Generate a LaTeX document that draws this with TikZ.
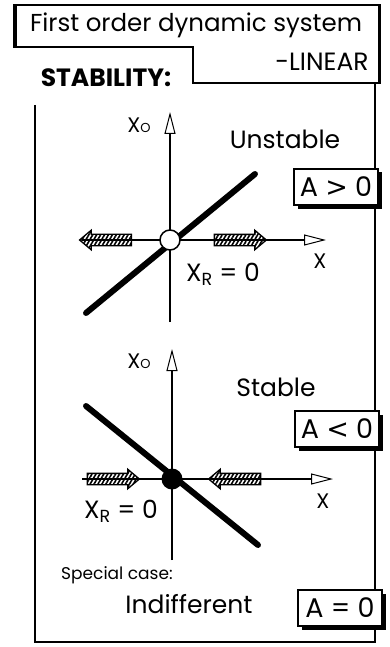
\documentclass[tikz,border=0pt]{standalone}
\usepackage{fontspec}
\setmainfont{Poppins}
\newfontfamily\signfont{DejaVu Sans}
\usetikzlibrary{arrows.meta, positioning, shapes.arrows, patterns.meta, shadows}

\begin{document}
\begin{tikzpicture}[x=1pt, y=1pt, font=\fontsize{25}{29}\selectfont,
        frame/.style={line width=1.6pt},
        axis/.style={line width=1.3pt, -{Triangle[open, length=22pt, width=11pt, line width=1pt]}},
        slope/.style={line width=6pt, line cap=round},
        flow/.style={single arrow, draw, line width=1.3pt, inner xsep=0pt, inner ysep=5pt,
                     minimum height=52pt, single arrow head extend=4pt,
                     single arrow tip angle=80,
                     pattern={Lines[angle=60, distance=3.4pt, line width=1.6pt]}},
        cond/.style={draw, line width=1.3pt, fill=white, inner sep=0pt,
                     minimum width=84pt, minimum height=36pt,
                     font=\fontsize{27}{30}\selectfont,
                     drop shadow={shadow xshift=3.5pt, shadow yshift=-3.5pt,
                                  opacity=1, fill=black}},
        lbl/.style={inner sep=0pt},
        small/.style={inner sep=0pt, font=\fontsize{21}{24}\selectfont}]
      \useasboundingbox (0,0) rectangle (390,-647);
      % title block
      \draw[frame] (14,-5) -- (380,-5) -- (380,-83) -- (193,-83) -- (193,-47)
                   -- (14,-47) -- cycle;
      \draw[line width=4pt] (15,-5) -- (15,-47);
      \draw[line width=3pt] (379,-5) -- (379,-83);
      \node[lbl, font=\fontsize{24.5}{28}\selectfont] (title) at (196,-25) {First order dynamic system};
      \node[lbl] (linear) at (322,-62) {-LINEAR};
      \node[lbl, font=\fontsize{25}{28}\selectfont\bfseries] (stab) at (106,-78) {STABILITY:};
      % outer frame
      \draw[frame] (35,-105) -- (35,-642) -- (375,-642) -- (375,-83);
      % upper case: unstable
      \coordinate (uBot) at (170,-322);
      \coordinate (uTop) at (170,-112);
      \coordinate (uLeft) at (82,-240);
      \coordinate (uRight) at (326,-240);
      \draw[axis] (uBot) -- (uTop);
      \draw[axis] (uLeft) -- (uRight);
      \coordinate (uLow) at (86,-313);
      \coordinate (uHigh) at (255,-174);
      \draw[slope] (uLow) -- (uHigh);
      \node[flow, shape border rotate=180] (uFlowL) at (109,-240) {};
      \node[flow] (uFlowR) at (237,-240) {};
      \node[draw, circle, fill=white, line width=1.5pt, minimum size=20pt] (uEq) at (170,-240) {};
      \node[small] (uXo) at (139,-125) {X{\fontsize{13}{13}\selectfont O}};
      \node[lbl] (unst) at (285,-139) {Unstable};
      \node[small] (uX) at (320,-261) {X};
      \node[lbl] (uXr) at (223,-274) {X\textsubscript{R} = 0};
      \node[cond] (apos) at (336,-187) {A {\signfont >} 0};
      % lower case: stable
      \coordinate (sBot) at (172,-560);
      \coordinate (sTop) at (172,-349);
      \coordinate (sLeft) at (82,-479);
      \coordinate (sRight) at (333,-479);
      \draw[axis] (sBot) -- (sTop);
      \draw[axis] (sLeft) -- (sRight);
      \coordinate (sHigh) at (86,-406);
      \coordinate (sLow) at (258,-545);
      \draw[slope] (sHigh) -- (sLow);
      \node[flow] (sFlowL) at (110,-479) {};
      \node[flow, shape border rotate=180] (sFlowR) at (238,-479) {};
      \node[circle, fill=black, minimum size=21pt, inner sep=0pt] (sEq) at (172,-479) {};
      \node[small] (sXo) at (139,-361) {X{\fontsize{13}{13}\selectfont O}};
      \node[lbl] (stable) at (276,-387) {Stable};
      \node[small] (sX) at (323,-501) {X};
      \node[lbl] (sXr) at (121,-511) {X\textsubscript{R} = 0};
      \node[cond] (aneg) at (337,-429) {A {\signfont <} 0};
      % special case
      \node[lbl, font=\fontsize{17}{20}\selectfont, anchor=west] (spec) at (61,-575) {Special case:};
      \node[lbl] (indiff) at (189,-604) {Indifferent};
      \node[cond] (azero) at (340,-608) {A = 0};
    \end{tikzpicture}
\end{document}
